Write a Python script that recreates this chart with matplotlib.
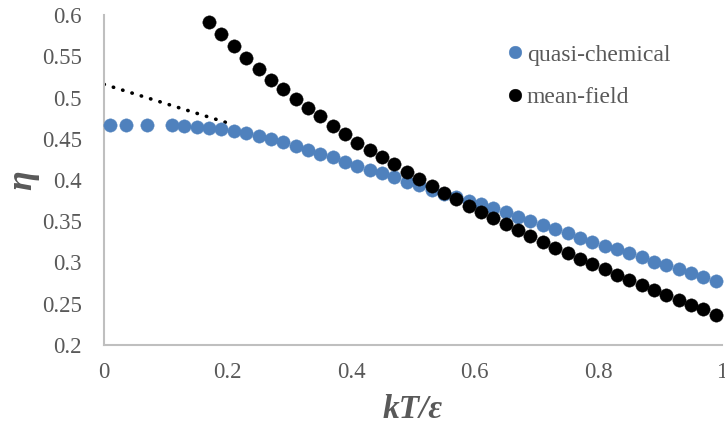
import matplotlib
matplotlib.use("Agg")
import matplotlib.pyplot as plt

# Reduced temperature kT/epsilon and order parameter eta for the two approximations
kt_quasi = [0.01, 0.035, 0.07, 0.11, 0.13, 0.15, 0.17, 0.19, 0.21, 0.23, 0.25, 0.27,
            0.29, 0.31, 0.33, 0.35, 0.37, 0.39, 0.41, 0.43, 0.45, 0.47, 0.49, 0.51,
            0.53, 0.55, 0.57, 0.59, 0.61, 0.63, 0.65, 0.67, 0.69, 0.71, 0.73, 0.75,
            0.77, 0.79, 0.81, 0.83, 0.85, 0.87, 0.89, 0.91, 0.93, 0.95, 0.97, 0.99]
eta_quasi = [0.4667, 0.4667, 0.4667, 0.4667, 0.4659, 0.4646, 0.4634, 0.4618, 0.4594,
             0.4566, 0.4533, 0.4497, 0.4457, 0.4416, 0.4365, 0.4320, 0.4275, 0.4222,
             0.4174, 0.4122, 0.4081, 0.4033, 0.3980, 0.3940, 0.3879, 0.3835, 0.3790,
             0.3750, 0.3710, 0.3657, 0.3612, 0.3555, 0.3505, 0.3450, 0.3403, 0.3354,
             0.3301, 0.3252, 0.3204, 0.3160, 0.3112, 0.3063, 0.3010, 0.2970, 0.2918,
             0.2877, 0.2828, 0.2780]

kt_mean = [0.17, 0.19, 0.21, 0.23, 0.25, 0.27, 0.29, 0.31, 0.33, 0.35, 0.37, 0.39,
           0.41, 0.43, 0.45, 0.47, 0.49, 0.51, 0.53, 0.55, 0.57, 0.59, 0.61, 0.63,
           0.65, 0.67, 0.69, 0.71, 0.73, 0.75, 0.77, 0.79, 0.81, 0.83, 0.85, 0.87,
           0.89, 0.91, 0.93, 0.95, 0.97, 0.99]
eta_mean = [0.5919, 0.5766, 0.5624, 0.5476, 0.5342, 0.5212, 0.5100, 0.4980, 0.4875,
            0.4775, 0.4658, 0.4558, 0.4452, 0.4360, 0.4275, 0.4194, 0.4101, 0.4009,
            0.3927, 0.3846, 0.3766, 0.3689, 0.3616, 0.3536, 0.3470, 0.3394, 0.3323,
            0.3246, 0.3180, 0.3112, 0.3043, 0.2978, 0.2918, 0.2849, 0.2788, 0.2727,
            0.2667, 0.2606, 0.2546, 0.2485, 0.2433, 0.2364]

# Low-temperature extrapolation (dotted)
kt_extrap = [0.0, 0.205]
eta_extrap = [0.516, 0.468]

x_ticks = [0, 0.2, 0.4, 0.6, 0.8, 1.0]
x_tick_labels = ["0", "0.2", "0.4", "0.6", "0.8", "1"]
y_ticks = [0.2, 0.25, 0.3, 0.35, 0.4, 0.45, 0.5, 0.55, 0.6]
y_tick_labels = ["0.2", "0.25", "0.3", "0.35", "0.4", "0.45", "0.5", "0.55", "0.6"]

BLUE = "#4F81BD"
GRAY_TEXT = "#595959"
SPINE = "#BFBFBF"
SERIF = ["Liberation Serif", "DejaVu Serif"]

plt.rcParams["font.family"] = SERIF

fig = plt.figure(figsize=(7.25, 4.28), dpi=100)
ax = fig.add_axes([104 / 725, 83 / 428, 618 / 725, 330 / 428])

ax.plot(kt_extrap, eta_extrap, color="black", linestyle=(0, (0.1, 2.6)),
        linewidth=2.6, dash_capstyle="round", zorder=2)
ax.plot(kt_quasi, eta_quasi, linestyle="none", marker="o", markersize=9.6,
        markerfacecolor=BLUE, markeredgecolor=BLUE, markeredgewidth=0.3,
        label="quasi-chemical", clip_on=False, zorder=3)
ax.plot(kt_mean, eta_mean, linestyle="none", marker="o", markersize=9.6,
        markerfacecolor="black", markeredgecolor="black", markeredgewidth=0.3,
        label="mean-field", clip_on=False, zorder=4)

ax.set_xlim(0, 1)
ax.set_ylim(0.2, 0.6)
ax.set_xticks(x_ticks)
ax.set_xticklabels(x_tick_labels)
ax.set_yticks(y_ticks)
ax.set_yticklabels(y_tick_labels)
ax.tick_params(axis="both", length=0, labelsize=16.5, labelcolor=GRAY_TEXT)
ax.tick_params(axis="x", pad=12)
ax.tick_params(axis="y", pad=16)

for side in ("top", "right"):
    ax.spines[side].set_visible(False)
for side in ("left", "bottom"):
    ax.spines[side].set_color(SPINE)
    ax.spines[side].set_linewidth(1.5)

ax.set_xlabel(r"kT/ε", fontsize=24, fontweight="bold", fontstyle="italic",
              color=GRAY_TEXT, labelpad=8)
ax.set_ylabel("η", fontsize=26, fontweight="bold", fontstyle="italic",
              color=GRAY_TEXT)
ax.yaxis.set_label_coords(-0.105, 0.5)

leg = ax.legend(loc="upper left", bbox_to_anchor=(509 / 725, 1 - 44 / 428),
                bbox_transform=fig.transFigure, frameon=False, fontsize=17,
                handlelength=0.5, handletextpad=0.25, labelspacing=0.9,
                markerscale=0.95, borderaxespad=0, borderpad=0)
for txt in leg.get_texts():
    txt.set_color(GRAY_TEXT)

fig.savefig("out.png", dpi=100)
